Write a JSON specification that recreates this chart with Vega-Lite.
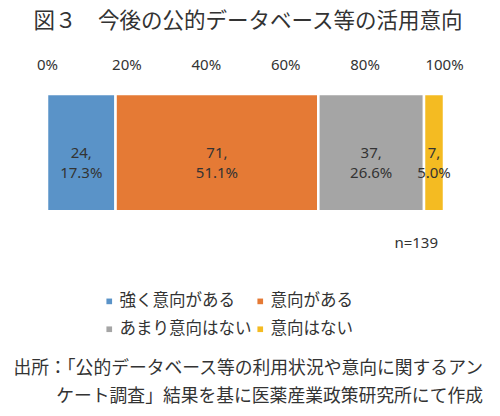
{
  "$schema": "https://vega.github.io/schema/vega-lite/v6.json",
  "description": "図３ 今後の公的データベース等の活用意向 (n=139)",
  "autosize": "none",
  "width": 397,
  "height": 164,
  "padding": {"left": 47, "right": 56, "top": 94, "bottom": 158},
  "background": "white",
  "data": {
    "values": [
      {"cat": "強く意向がある", "n": 24, "o": 1, "label": "24,\n17.3%"},
      {"cat": "意向がある", "n": 71, "o": 2, "label": "71,\n51.1%"},
      {"cat": "あまり意向はない", "n": 37, "o": 3, "label": "37,\n26.6%"},
      {"cat": "意向はない", "n": 7, "o": 4, "label": "7,\n5.0%"}
    ]
  },
  "title": {
    "text": ["出所：「公的データベース等の利用状況や意向に関するアン", "ケート調査」結果を基に医薬産業政策研究所にて作成"],
    "orient": "bottom",
    "anchor": "end",
    "frame": "group",
    "dx": 39,
    "offset": 22,
    "font": "Noto Sans CJK JP",
    "fontSize": 17.8,
    "fontWeight": "normal",
    "lineHeight": 28,
    "color": "#333333"
  },
  "transform": [
    {"stack": "n", "groupby": [], "sort": [{"field": "o"}], "offset": "normalize", "as": ["x0", "x1"]}
  ],
  "layer": [
    {
      "mark": {"type": "rect", "stroke": "white", "strokeWidth": 2.5},
      "encoding": {
        "x": {
          "field": "x0",
          "type": "quantitative",
          "scale": {"domain": [0, 1], "nice": false},
          "axis": {
            "orient": "top",
            "format": ".0%",
            "values": [0, 0.2, 0.4, 0.6, 0.8, 1],
            "domain": false,
            "ticks": false,
            "grid": false,
            "labelFont": "Noto Sans",
            "labelFontSize": 15,
            "labelColor": "#333333",
            "labelPadding": 22,
            "labelFlush": false,
            "title": "図３　今後の公的データベース等の活用意向",
            "titleFont": "Noto Sans CJK JP",
            "titleFontSize": 21.5,
            "titleFontWeight": "normal",
            "titleColor": "#333333",
            "titleAnchor": "start",
            "titleAlign": "left",
            "titleX": -14,
            "titlePadding": 25
          }
        },
        "x2": {"field": "x1"},
        "y": {"datum": 1, "type": "quantitative", "scale": {"domain": [-0.4, 1], "nice": false, "zero": false}, "axis": null},
        "y2": {"datum": 0},
        "color": {
          "field": "cat",
          "type": "nominal",
          "scale": {
            "domain": ["強く意向がある", "意向がある", "あまり意向はない", "意向はない"],
            "range": ["#5A93C8", "#E57A35", "#A5A5A5", "#F4BB22"]
          },
          "legend": {
            "orient": "none",
            "legendX": 54,
            "legendY": 199,
            "title": null,
            "direction": "horizontal",
            "columns": 2,
            "symbolType": "square",
            "symbolSize": 32,
            "symbolStrokeWidth": 0,
            "labelFont": "Noto Sans CJK JP",
            "labelFontSize": 16.5,
            "labelColor": "#333333",
            "labelOffset": 2,
            "columnPadding": -3,
            "rowPadding": 11,
            "labelLimit": 300
          }
        }
      }
    },
    {
      "transform": [
        {"fold": ["x0", "x1"], "as": ["edge", "pos"]},
        {"aggregate": [{"op": "mean", "field": "pos", "as": "mid"}], "groupby": ["cat", "label", "o"]}
      ],
      "mark": {
        "type": "text",
        "font": "Noto Sans",
        "fontSize": 15,
        "color": "#333333",
        "lineBreak": "\n",
        "lineHeight": 20,
        "baseline": "middle"
      },
      "encoding": {
        "x": {"field": "mid", "type": "quantitative"},
        "y": {"datum": 0.5, "type": "quantitative"},
        "text": {"field": "label"}
      }
    },
    {
      "data": {"values": [{"note": "n=139"}]},
      "mark": {
        "type": "text",
        "font": "Noto Sans",
        "fontSize": 15,
        "color": "#333333",
        "align": "right",
        "baseline": "middle",
        "dx": -6
      },
      "encoding": {
        "x": {"datum": 1, "type": "quantitative"},
        "y": {"datum": -0.27, "type": "quantitative"},
        "text": {"field": "note"}
      }
    }
  ],
  "config": {
    "view": {"stroke": null}
  }
}
